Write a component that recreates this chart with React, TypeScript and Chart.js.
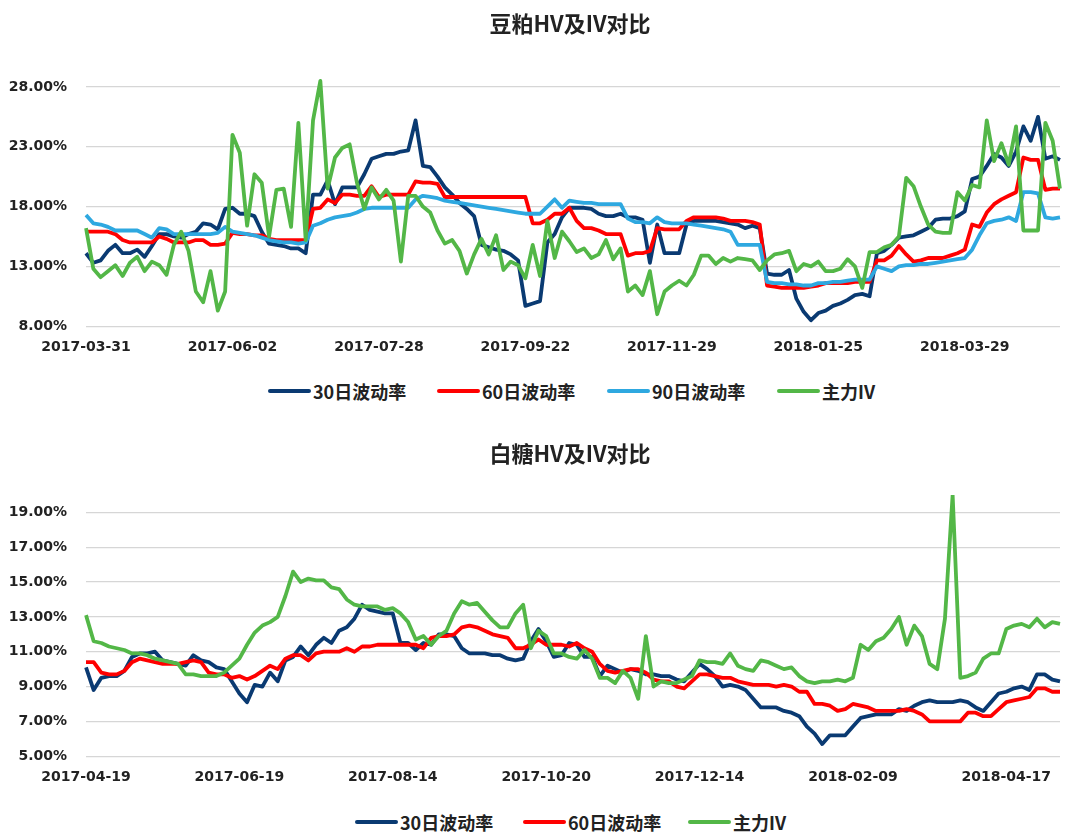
import React, { useEffect, useRef } from 'react';
import { Chart, registerables } from 'chart.js';

Chart.register(...registerables);

// ---------- 豆粕 (soybean meal) ----------
const soyTitle = '豆粕HV及IV对比';
const soyTickLabels = ['2017-03-31', '2017-06-02', '2017-07-28', '2017-09-22', '2017-11-29', '2018-01-25', '2018-03-29'];
const soyYTicks = [8, 13, 18, 23, 28];

const soy30 = [
  14.1, 13.3, 13.5, 14.3, 14.8, 14.1, 14.1, 14.4, 13.8, 14.7,
  15.7, 15.7, 15.5, 15.4, 15.7, 15.9, 16.6, 16.5, 16.1, 17.8,
  17.9, 17.4, 17.4, 17.2, 15.9, 14.9, 14.8, 14.7, 14.5, 14.5,
  14.1, 19.0, 19.0, 20.2, 18.2, 19.6, 19.6, 19.6, 20.7, 22.0,
  22.2, 22.4, 22.4, 22.6, 22.7, 25.2, 21.4, 21.3, 20.5, 19.6,
  19.0, 18.3, 17.8, 17.2, 14.8, 14.6, 14.4, 14.3, 14.0, 13.5,
  9.7, 9.9, 10.1, 15.0, 15.7, 17.1, 17.9, 17.9, 17.9, 17.8,
  17.4, 17.2, 17.2, 17.4, 17.1, 17.1, 16.9, 13.3, 16.5, 14.1,
  14.1, 14.1, 16.5, 16.8, 16.8, 16.8, 16.8, 16.7, 16.6, 16.5,
  16.2, 16.4, 16.2, 12.4, 12.3, 12.3, 12.7, 10.3, 9.2, 8.5,
  9.1, 9.3, 9.7, 9.9, 10.2, 10.6, 10.7, 10.5, 14.1, 14.3,
  14.8, 15.4, 15.5, 15.6, 15.9, 16.2, 16.9, 17.0, 17.0, 17.2,
  17.6, 20.3, 20.5, 21.4, 22.4, 22.1, 21.4, 22.6, 24.7, 23.5,
  25.5, 22.0, 22.2, 21.9,
];

const soy60 = [
  15.9, 15.9, 15.9, 15.9, 15.7, 15.2, 15.0, 15.0, 15.0, 15.0,
  15.5, 15.3, 15.0, 15.0, 15.0, 15.2, 15.2, 14.8, 14.8, 14.9,
  15.8, 15.7, 15.7, 15.6, 15.6, 15.3, 15.2, 15.2, 15.2, 15.2,
  15.2, 17.8, 17.9, 18.6, 18.3, 19.0, 19.0, 18.9, 18.9, 19.7,
  18.8, 19.0, 19.0, 19.0, 19.0, 20.1, 20.0, 20.0, 19.9, 18.8,
  18.8, 18.8, 18.8, 18.8, 18.8, 18.8, 18.8, 18.8, 18.8, 18.8,
  18.8, 16.6, 16.6, 16.9, 17.4, 17.4, 17.9, 16.8, 16.2, 16.2,
  16.0, 15.7, 15.7, 15.7, 13.9, 14.1, 14.1, 14.3, 16.2, 16.1,
  16.1, 16.1, 16.8, 17.1, 17.1, 17.1, 17.1, 17.0, 16.8, 16.8,
  16.8, 16.7, 16.5, 11.4, 11.3, 11.2, 11.2, 11.2, 11.2, 11.3,
  11.4, 11.6, 11.6, 11.6, 11.6, 11.7, 11.7, 11.7, 13.5, 13.5,
  13.9, 14.7, 14.0, 13.4, 13.5, 13.7, 13.7, 13.7, 13.9, 14.1,
  14.4, 16.5, 16.3, 17.5, 18.2, 18.6, 18.9, 19.2, 22.1, 21.9,
  21.9, 19.4, 19.5, 19.5,
];

const soy90 = [
  17.3, 16.6, 16.5, 16.3, 16.0, 16.0, 16.0, 16.0, 15.7, 15.4,
  16.2, 16.1, 15.7, 15.7, 15.7, 15.7, 15.7, 15.7, 15.8, 16.3,
  15.9, 15.8, 15.7, 15.6, 15.4, 15.2, 15.1, 15.0, 15.0, 14.9,
  15.0, 16.4, 16.6, 16.9, 17.1, 17.2, 17.3, 17.5, 17.8, 17.9,
  17.9, 17.9, 17.9, 17.9, 17.9, 18.6, 18.9, 18.8, 18.7, 18.5,
  18.4, 18.3, 18.2, 18.1, 18.0, 17.9, 17.8, 17.7, 17.6, 17.5,
  17.4, 17.4, 17.4, 18.0, 18.6, 17.9, 18.5, 18.4, 18.3, 18.3,
  18.2, 18.2, 18.2, 18.2, 17.0, 16.7, 16.7, 16.6, 17.1, 16.7,
  16.6, 16.6, 16.6, 16.5, 16.4, 16.3, 16.2, 16.1, 15.9, 14.8,
  14.8, 14.8, 14.8, 11.7, 11.6, 11.6, 11.5, 11.5, 11.4, 11.4,
  11.6, 11.6, 11.7, 11.7, 11.8, 11.9, 11.9, 11.9, 13.0, 12.8,
  12.6, 13.0, 13.1, 13.1, 13.2, 13.2, 13.3, 13.4, 13.5, 13.6,
  13.7, 14.4, 15.6, 16.6, 16.8, 16.9, 17.1, 16.8, 19.2, 19.2,
  19.1, 17.1, 17.0, 17.1,
];

const soyIV = [
  16.2, 12.8, 12.1, 12.6, 13.1, 12.2, 13.3, 13.8, 12.6, 13.4,
  13.1, 12.3, 14.8, 15.9, 14.3, 10.9, 10.0, 12.6, 9.3, 10.9,
  24.0, 22.5, 16.4, 20.7, 20.0, 15.5, 19.4, 19.5, 16.3, 25.0,
  15.2, 25.2, 28.5, 19.5, 22.1, 22.9, 23.2, 20.0, 17.8, 19.6,
  18.6, 19.4, 18.5, 13.4, 18.9, 18.9, 18.0, 17.5, 16.0, 14.9,
  15.2, 14.3, 12.4, 14.0, 15.3, 14.0, 15.6, 12.7, 13.4, 13.1,
  12.0, 14.8, 12.2, 16.8, 13.7, 15.9, 15.1, 14.2, 14.5, 13.7,
  14.0, 15.2, 13.6, 14.5, 10.9, 11.4, 10.6, 12.6, 9.0, 10.9,
  11.4, 11.8, 11.4, 12.3, 13.9, 13.9, 13.2, 13.7, 13.4, 13.7,
  13.6, 13.5, 12.7, 13.5, 14.0, 14.1, 14.3, 12.6, 13.2, 13.0,
  13.4, 12.6, 12.6, 12.8, 13.6, 13.0, 11.2, 14.2, 14.2, 14.6,
  14.8, 15.5, 20.4, 19.7, 18.0, 16.5, 15.9, 15.8, 15.8, 19.2,
  18.5, 19.8, 19.6, 25.2, 21.8, 23.3, 21.5, 24.7, 16.0, 16.0,
  16.0, 25.0, 23.5, 19.5,
];

// ---------- 白糖 (white sugar) ----------
const sugarTitle = '白糖HV及IV对比';
const sugarTickLabels = ['2017-04-19', '2017-06-19', '2017-08-14', '2017-10-20', '2017-12-14', '2018-02-09', '2018-04-17'];
const sugarYTicks = [5, 7, 9, 11, 13, 15, 17, 19];

const sugar30 = [
  10.1, 8.8, 9.5, 9.6, 9.6, 9.9, 10.7, 10.9, 10.9, 11.0,
  10.5, 10.4, 10.3, 10.2, 10.8, 10.5, 10.4, 10.1, 10.0, 9.3,
  8.6, 8.1, 9.1, 9.0, 9.8, 9.3, 10.5, 10.7, 11.3, 10.8,
  11.4, 11.8, 11.5, 12.2, 12.4, 12.9, 13.7, 13.4, 13.3, 13.2,
  13.2, 11.5, 11.5, 11.1, 11.5, 11.4, 12.0, 12.0, 11.9, 11.2,
  10.9, 10.9, 10.9, 10.8, 10.8, 10.6, 10.5, 10.6, 11.6, 12.3,
  11.6, 10.7, 10.8, 11.5, 11.4, 10.7, 10.7, 9.6, 10.2, 10.0,
  9.8, 10.0, 9.9, 9.7, 9.7, 9.6, 9.6, 9.4, 9.3, 9.8,
  10.3, 10.0, 9.6, 9.0, 9.1, 9.0, 8.8, 8.3, 7.8, 7.8,
  7.8, 7.6, 7.5, 7.3, 6.7, 6.3, 5.7, 6.2, 6.2, 6.2,
  6.7, 7.2, 7.3, 7.4, 7.4, 7.4, 7.7, 7.6, 7.9, 8.1,
  8.2, 8.1, 8.1, 8.1, 8.2, 8.1, 7.8, 7.6, 8.1, 8.6,
  8.7, 8.9, 9.0, 8.8, 9.7, 9.7, 9.4, 9.3,
];

const sugar60 = [
  10.4, 10.4, 9.8, 9.7, 9.7, 9.9, 10.4, 10.6, 10.5, 10.4,
  10.3, 10.3, 10.3, 10.4, 10.5, 10.4, 9.8, 9.7, 9.7, 9.5,
  9.6, 9.4, 9.6, 9.9, 10.2, 10.0, 10.6, 10.8, 10.8, 10.5,
  10.9, 11.0, 11.0, 11.0, 11.2, 11.0, 11.3, 11.3, 11.4, 11.4,
  11.4, 11.4, 11.4, 11.4, 11.2, 11.8, 11.9, 11.9, 12.0, 12.4,
  12.5, 12.4, 12.2, 12.0, 11.9, 11.8, 11.2, 11.2, 11.4, 11.7,
  11.4, 11.4, 11.4, 11.3, 11.5, 11.2, 11.0, 10.3, 9.9, 9.8,
  9.9, 10.0, 10.0, 9.8, 9.4, 9.3, 9.3, 9.0, 8.9, 9.3,
  9.7, 9.7, 9.6, 9.5, 9.5, 9.3, 9.2, 9.1, 9.1, 9.1,
  9.0, 9.1, 9.0, 8.7, 8.7, 8.0, 8.0, 7.9, 7.6, 7.7,
  8.0, 7.9, 7.8, 7.6, 7.6, 7.6, 7.6, 7.7, 7.6, 7.4,
  7.0, 7.0, 7.0, 7.0, 7.0, 7.5, 7.5, 7.3, 7.3, 7.7,
  8.1, 8.2, 8.3, 8.4, 8.9, 8.9, 8.7, 8.7,
];

const sugarIV = [
  13.1, 11.6, 11.5, 11.3, 11.2, 11.1, 10.9, 10.9, 10.8, 10.6,
  10.5, 10.4, 10.3, 9.7, 9.7, 9.6, 9.6, 9.6, 9.8, 10.2,
  10.6, 11.4, 12.1, 12.5, 12.7, 13.0, 14.2, 15.6, 15.0, 15.2,
  15.1, 15.1, 14.7, 14.6, 14.0, 13.7, 13.6, 13.6, 13.6, 13.4,
  13.5, 13.2, 12.7, 11.7, 11.9, 11.4, 11.9, 12.2, 13.2, 13.9,
  13.7, 13.8, 13.3, 12.8, 12.4, 12.4, 13.2, 13.7, 11.2, 12.2,
  11.9, 10.9, 10.9, 10.7, 10.6, 11.1, 10.6, 9.5, 9.5, 9.2,
  9.9, 9.5, 8.3, 11.9, 9.0, 9.3, 9.2, 9.2, 9.4, 9.6,
  10.5, 10.4, 10.4, 10.3, 10.9, 10.2, 10.0, 9.9, 10.5, 10.4,
  10.2, 10.0, 10.1, 9.6, 9.3, 9.2, 9.3, 9.3, 9.4, 9.3,
  9.5, 11.4, 11.1, 11.6, 11.8, 12.3, 13.0, 11.4, 12.5, 11.9,
  10.3, 10.0, 12.9, 20.0, 9.5, 9.6, 9.8, 10.6, 10.9, 10.9,
  12.3, 12.5, 12.6, 12.4, 12.9, 12.4, 12.7, 12.6,
];

// ---------- styles ----------
const NAVY = '#0a3a72';
const RED = '#ff0000';
const LIGHT = '#2ea8e0';
const GREEN = '#53b747';
const GRID = '#d6d6d6';
const TEXT = '#222222';
const TICK_FONT = { family: '"DejaVu Sans", sans-serif', weight: 'bold' as const, size: 14 };
const CJK = '"Noto Sans CJK SC", "DejaVu Sans", sans-serif';

function buildCategories(count: number, tickLabels: string[], every: number) {
  return Array.from({ length: count }, (_, i) => (i % every === 0 && tickLabels[i / every] ? tickLabels[i / every] : ''));
}

type Series = { label: string; data: number[]; color: string; order: number };

function makeConfig(
  categories: string[],
  series: Series[],
  min: number,
  max: number,
  yTicks: number[],
  padTop: number,
  padBottom: number
): any {
  return {
    type: 'line',
    data: {
      labels: categories,
      datasets: series.map((s) => ({
        label: s.label,
        data: s.data,
        borderColor: s.color,
        backgroundColor: s.color,
        borderWidth: 3.8,
        pointRadius: 0,
        pointHoverRadius: 0,
        tension: 0,
        fill: false,
        order: s.order,
        borderJoinStyle: 'round',
      })),
    },
    options: {
      animation: false,
      responsive: false,
      devicePixelRatio: 1,
      events: [],
      layout: { padding: { top: padTop, bottom: padBottom, left: 0, right: 1 } },
      plugins: {
        legend: { display: false },
        title: { display: false },
        tooltip: { enabled: false },
      },
      scales: {
        x: {
          type: 'category',
          grid: { display: false, drawTicks: false },
          border: { display: false },
          ticks: {
            autoSkip: false,
            maxRotation: 0,
            minRotation: 0,
            padding: 13,
            color: TEXT,
            font: TICK_FONT,
          },
        },
        y: {
          min,
          max,
          afterBuildTicks: (scale: any) => {
            scale.ticks = yTicks.map((v) => ({ value: v }));
          },
          afterFit: (scale: any) => {
            scale.width = 86;
          },
          grid: { color: GRID, lineWidth: 1.3, drawTicks: false },
          border: { display: false },
          ticks: {
            padding: 19,
            color: TEXT,
            font: TICK_FONT,
            callback: (v: any) => Number(v).toFixed(2) + '%',
          },
        },
      },
    },
  };
}

const soyCategories = buildCategories(soy30.length, soyTickLabels, 20);
const sugarCategories = buildCategories(sugar30.length, sugarTickLabels, 20);

const soySeries: Series[] = [
  { label: '30日波动率', data: soy30, color: NAVY, order: 4 },
  { label: '60日波动率', data: soy60, color: RED, order: 3 },
  { label: '90日波动率', data: soy90, color: LIGHT, order: 2 },
  { label: '主力IV', data: soyIV, color: GREEN, order: 1 },
];
const sugarSeries: Series[] = [
  { label: '30日波动率', data: sugar30, color: NAVY, order: 3 },
  { label: '60日波动率', data: sugar60, color: RED, order: 2 },
  { label: '主力IV', data: sugarIV, color: GREEN, order: 1 },
];

function LegendRow({ series, lefts, centerY }: { series: Series[]; lefts: number[]; centerY: number }) {
  return (
    <>
      {series.map((s, i) => (
        <div
          key={s.label}
          style={{
            position: 'absolute',
            left: lefts[i],
            top: centerY - 14,
            height: 28,
            display: 'flex',
            alignItems: 'center',
            whiteSpace: 'nowrap',
          }}
        >
          <span style={{ display: 'inline-block', width: 43, height: 4, borderRadius: 2, background: s.color }} />
          <span
            style={{
              marginLeft: 2,
              fontFamily: CJK,
              fontWeight: 'bold',
              fontSize: 18,
              color: TEXT,
              lineHeight: '28px',
            }}
          >
            {s.label}
          </span>
        </div>
      ))}
    </>
  );
}

function Title({ text, centerY }: { text: string; centerY: number }) {
  return (
    <div
      style={{
        position: 'absolute',
        left: 420,
        width: 300,
        top: centerY - 16,
        height: 32,
        lineHeight: '32px',
        textAlign: 'center',
        fontFamily: CJK,
        fontWeight: 'bold',
        fontSize: 22,
        color: TEXT,
        whiteSpace: 'nowrap',
      }}
    >
      {text}
    </div>
  );
}

export default function App() {
  const topRef = useRef<HTMLCanvasElement | null>(null);
  const botRef = useRef<HTMLCanvasElement | null>(null);

  useEffect(() => {
    const c1 = new Chart(topRef.current as HTMLCanvasElement, makeConfig(soyCategories, soySeries, 8, 30, soyYTicks, 63, 6));
    const c2 = new Chart(botRef.current as HTMLCanvasElement, makeConfig(sugarCategories, sugarSeries, 5, 20, sugarYTicks, 65, 5));
    return () => {
      c1.destroy();
      c2.destroy();
    };
  }, []);

  return (
    <div style={{ position: 'absolute', left: 0, top: 0, width: 1073, height: 832, overflow: 'hidden', background: '#ffffff' }}>
      <canvas ref={topRef} width={1073} height={375} style={{ position: 'absolute', left: 0, top: 0, width: 1073, height: 375 }} />
      <canvas ref={botRef} width={1073} height={374} style={{ position: 'absolute', left: 0, top: 430, width: 1073, height: 374 }} />
      <Title text={soyTitle} centerY={22} />
      <Title text={sugarTitle} centerY={452} />
      <LegendRow series={soySeries} lefts={[268, 437, 607, 777]} centerY={391} />
      <LegendRow series={sugarSeries} lefts={[355, 523, 688]} centerY={822} />
    </div>
  );
}
